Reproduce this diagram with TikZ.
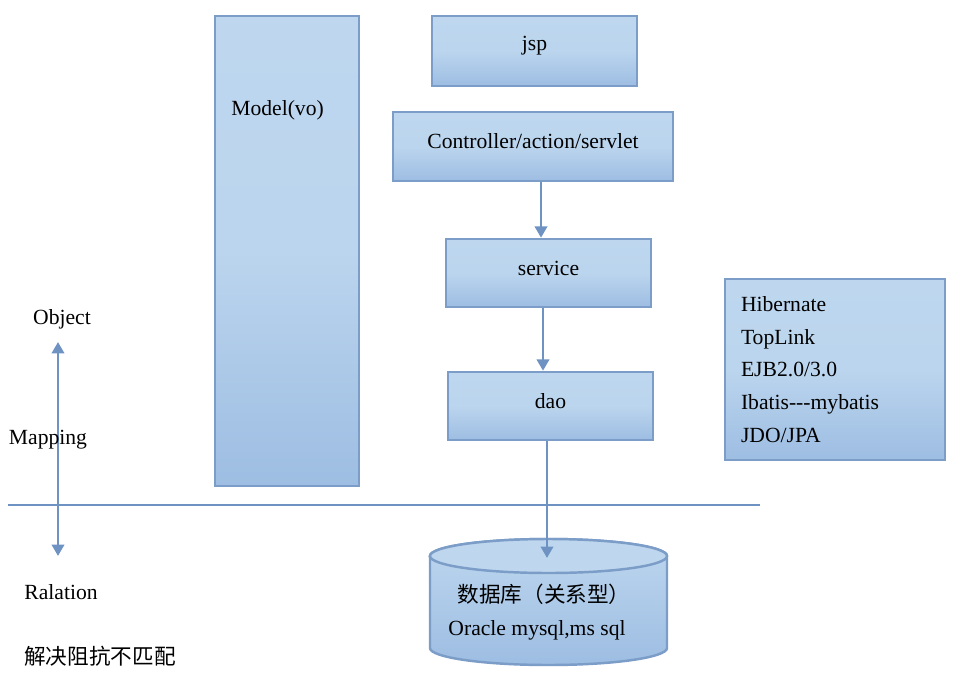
\documentclass[tikz,border=0pt]{standalone}
\usepackage{fontspec}
\setmainfont{Liberation Serif}
\newfontfamily\cjk{Noto Sans CJK SC}
\usepackage{xcolor}
\usepackage{tikz}
\usetikzlibrary{positioning,calc,arrows.meta}

\definecolor{boxtop}{HTML}{BED7EF}
\definecolor{boxbot}{HTML}{9DBDE2}
\definecolor{boxline}{HTML}{7B9DC7}
\definecolor{linkcol}{HTML}{6E93C3}

\begin{document}
\begin{tikzpicture}[x=0.2mm,y=-0.2mm,
    every node/.style={font=\fontsize{12.3}{15}\selectfont},
    box/.style={draw=boxline, line width=1.4pt, top color=boxtop, bottom color=boxbot, middle color=boxtop!92!boxbot, inner sep=0pt},
    link/.style={draw=linkcol, line width=1.6pt, -{Triangle[width=7pt,length=6.5pt]}}]
    \useasboundingbox (0,0) rectangle (971,679);

    % boxes
    \node[box, minimum width=28.8mm, minimum height=94mm] (model) at (287,251) {};
    \node[box, minimum width=41mm, minimum height=14mm] (jsp) at (534.5,51) {};
    \node[box, minimum width=56mm, minimum height=13.8mm] (ctrl) at (533,146.5) {};
    \node[box, minimum width=41mm, minimum height=13.6mm] (service) at (548.5,273) {};
    \node[box, minimum width=41mm, minimum height=13.6mm] (dao) at (550.5,406) {};
    \node[box, minimum width=44mm, minimum height=36.2mm, align=left, text width=37.6mm,
          inner xsep=3.2mm, font=\fontsize{12.3}{18.7}\selectfont] (orm) at (835,369.5)
          {Hibernate\\TopLink\\EJB2.0/3.0\\Ibatis{-}{-}{-}mybatis\\JDO/JPA};

    \node[anchor=west, inner sep=0pt] (modeltxt) at (231,110) {Model(vo)};
    \node (jsptxt) at ([yshift=1mm]jsp) {jsp};
    \node (ctrltxt) at ([yshift=1mm]ctrl) {Controller/action/servlet};
    \node (servicetxt) at ([yshift=1mm]service) {service};
    \node (daotxt) at ([yshift=1mm]dao) {dao};

    % database
    \draw[draw=boxline, line width=1.4pt, top color=boxtop, bottom color=boxbot]
        (430,556) -- (430,648) arc[start angle=180, end angle=360, x radius=23.7mm, y radius=3.4mm]
        -- (667,556) arc[start angle=0, end angle=180, x radius=23.7mm, y radius=3.4mm] -- cycle;
    \draw[draw=boxline, line width=1.4pt, fill=boxtop] (548.5,556) ellipse[x radius=23.7mm, y radius=3.4mm];
    \coordinate (dbtop) at (547,558);
    \node (dbname) at (544,594) {\cjk 数据库（关系型）};
    \node (dbkind) at (537,630) {Oracle mysql,ms sql};

    \draw[link] (ctrl.south -| 541,0) -- (service.north -| 541,0);
    \draw[link] (service.south -| 543,0) -- (dao.north -| 543,0);
    \draw[link] (dao.south -| dbtop) -- (dbtop);

    % object / relation
    \draw[draw=linkcol, line width=1.6pt] (8,505) -- (760,505);
    \coordinate (objend) at (58,342);
    \coordinate (relend) at (58,556);
    \draw[link, {Triangle[width=7pt,length=6.5pt]}-{Triangle[width=7pt,length=6.5pt]}] (objend) -- (relend);

    \node (object) at (62,319) {Object};
    \node (mapping) at (48,440) {Mapping};
    \node (ralation) at (61,592) {Ralation};
    \node (solve) at (100,656) {\cjk 解决阻抗不匹配};
\end{tikzpicture}
\end{document}
